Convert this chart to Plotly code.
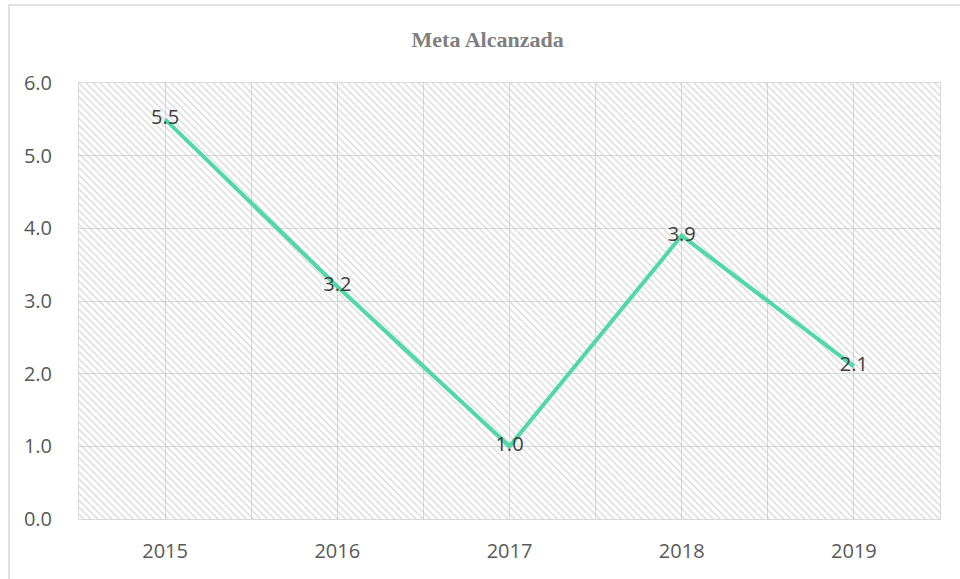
import plotly.graph_objects as go

years = ["2015", "2016", "2017", "2018", "2019"]
values = [5.5, 3.2, 1.0, 3.9, 2.1]
labels = ["5.5", "3.2", "1.0", "3.9", "2.1"]
y_ticks = [0, 1, 2, 3, 4, 5, 6]
y_max = 6
title = "Meta Alcanzada"

idx = list(range(len(years)))

fig = go.Figure()
# hatched plot-area background
fig.add_trace(go.Bar(
    x=idx, y=[y_max] * len(years), width=1,
    marker=dict(color="rgba(0,0,0,0)", line=dict(width=0),
                pattern=dict(shape="\\", fgcolor="#BDBDBD", bgcolor="rgba(0,0,0,0)",
                             size=5, solidity=0.32)),
    hoverinfo="skip", showlegend=False,
))
fig.add_trace(go.Scatter(
    x=idx, y=values, mode="lines+text", text=labels,
    textposition="middle center",
    textfont=dict(family="Open Sans", size=20, color="#404040"),
    line=dict(color="#50D8A6", width=4),
    showlegend=False,
))

grid = "#D9D9D9"
W, H = 960, 579
L, T, R, B = 79, 83, 20, 60
pw, ph = W - L - R, H - T - B
fig.update_layout(
    width=W, height=H,
    margin=dict(l=L, r=R, t=T, b=B),
    paper_bgcolor="white", plot_bgcolor="white",
    bargap=0,
    title=dict(text="<b>" + title + "</b>", x=0.508, xanchor="center", y=1 - 39 / H, yanchor="middle",
               font=dict(family="Liberation Serif", size=22, color="#7F7F7F")),
    xaxis=dict(range=[-0.5, len(years) - 0.5], tickmode="array", tickvals=idx, ticktext=years,
               showgrid=True, gridcolor=grid, gridwidth=1,
               minor=dict(tick0=0.5, dtick=1, showgrid=True, gridcolor=grid, gridwidth=1),
               showline=True, linecolor=grid, linewidth=1, mirror=True,
               zeroline=False, ticks="", ticklabelstandoff=14,
               tickfont=dict(family="Open Sans", size=20, color="#595959")),
    yaxis=dict(range=[0, y_max], tickmode="array", tickvals=y_ticks, tickformat=".1f",
               showgrid=True, gridcolor=grid, gridwidth=1,
               showline=True, linecolor=grid, linewidth=1, mirror=True,
               zeroline=False, ticks="", ticklabelstandoff=22,
               tickfont=dict(family="Open Sans", size=20, color="#595959")),
    shapes=[dict(type="rect", xref="paper", yref="paper",
                 x0=(9 - L) / pw, x1=(W + 20 - L) / pw,
                 y0=-(B + 40) / ph, y1=(H - B - 5) / ph,
                 line=dict(color="#D9D9D9", width=1.5), fillcolor="rgba(0,0,0,0)", layer="below")],
)

fig.write_html("out.html", config={"displayModeBar": False},
               post_script="document.body.style.margin='0';")
